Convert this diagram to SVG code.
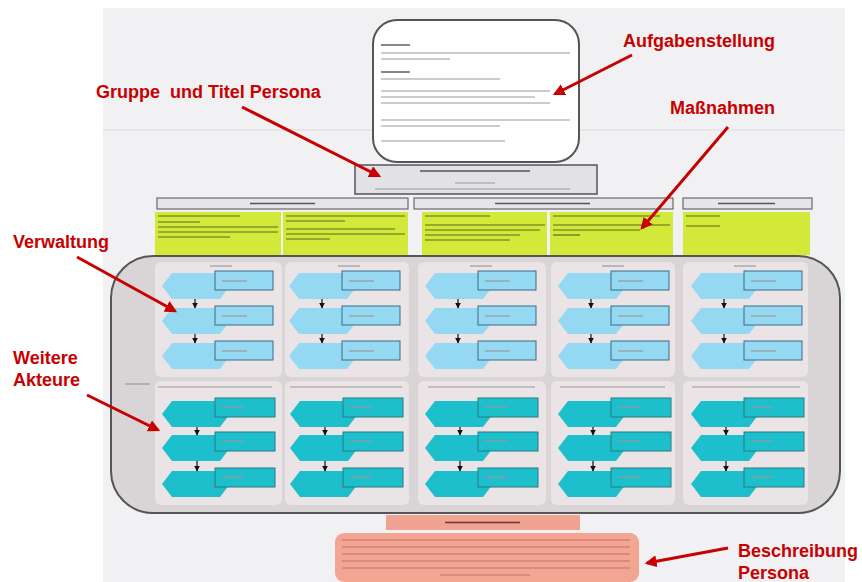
<svg xmlns="http://www.w3.org/2000/svg" width="862" height="582" viewBox="0 0 862 582">
<defs>
<style>
.lbl{font-family:"Liberation Sans",Arial,sans-serif;font-weight:bold;font-size:18px;fill:#c80000}
.arr{stroke:#c80000;stroke-width:3;fill:none;marker-end:url(#ah)}
.tl{stroke:#9a9a9a;stroke-width:1.2}
.tld{stroke:#555;stroke-width:1.4}
.tlp{stroke:#c07060;stroke-width:1.1}
.hdr{fill:#e6e6ea;stroke:#6a6a6a;stroke-width:1.2}
.green{fill:#d2e93a}
.pan{fill:#ebe4e6}
.hexB{fill:#94d8f2}
.recB{fill:#94d8f2;stroke:#3a6a8a;stroke-width:1}
.hexT{fill:#1dbfcc}
.recT{fill:#1dbfcc;stroke:#2a7a80;stroke-width:1}
.flow{stroke:#111;stroke-width:1.2;marker-end:url(#bk)}
</style>
<marker id="ah" viewBox="0 0 10 10" refX="8" refY="5" markerWidth="4" markerHeight="4" orient="auto"><path d="M0,0L10,5L0,10z" fill="#c80000"/></marker>
<marker id="bk" viewBox="0 0 10 10" refX="9" refY="5" markerWidth="5" markerHeight="5" orient="auto"><path d="M0,0L10,5L0,10z" fill="#111"/></marker>
<g id="rowB"><path class="hexB" d="M0,13L10,0H58L68,13L58,26H10Z"/><rect class="recB" x="53" y="-2" width="58" height="19"/><line class="tl" x1="60" y1="8" x2="85" y2="8"/></g>
<g id="rowT"><path class="hexT" d="M0,13L10,0H58L68,13L58,26H10Z"/><rect class="recT" x="53" y="-3" width="60" height="19"/><line class="tl" x1="60" y1="6" x2="82" y2="6" stroke="#2a6a70"/></g>
<g id="colB"><use href="#rowB" y="0"/><use href="#rowB" y="35"/><use href="#rowB" y="70"/><line class="flow" x1="33" y1="26" x2="33" y2="35"/><line class="flow" x1="33" y1="61" x2="33" y2="70"/></g>
<g id="colT"><use href="#rowT" y="0"/><use href="#rowT" y="34"/><use href="#rowT" y="70"/><line class="flow" x1="35" y1="26" x2="35" y2="34"/><line class="flow" x1="35" y1="60" x2="35" y2="70"/></g>
</defs>
<rect width="862" height="582" fill="#ffffff"/>
<rect x="103" y="8" width="742" height="574" fill="#f1f1f3"/>
<line x1="103" y1="130" x2="845" y2="130" stroke="#e6e6ea" stroke-width="2"/>

<g id="aufgabenstellung">
<rect x="373" y="20" width="206" height="142" rx="24" fill="#ffffff" stroke="#555" stroke-width="2"/>
<line class="tld" x1="381" y1="45" x2="410" y2="45"/>
<line class="tl" x1="381" y1="53" x2="570" y2="53"/>
<line class="tl" x1="381" y1="59" x2="450" y2="59"/>
<line class="tld" x1="381" y1="72" x2="410" y2="72"/>
<line class="tl" x1="381" y1="79" x2="500" y2="79"/>
<line class="tl" x1="381" y1="91" x2="550" y2="91"/>
<line class="tl" x1="381" y1="97" x2="535" y2="97"/>
<line class="tl" x1="381" y1="103" x2="550" y2="103"/>
<line class="tl" x1="381" y1="120" x2="570" y2="120"/>
<line class="tl" x1="381" y1="126" x2="500" y2="126"/>
<line class="tl" x1="381" y1="141" x2="505" y2="141"/>
</g>

<g id="gruppe-titel">
<rect x="355" y="165" width="242" height="29" fill="#e2e2e6" stroke="#555" stroke-width="1.5"/>
<line class="tld" x1="420" y1="171" x2="530" y2="171"/>
<line class="tl" x1="455" y1="183" x2="495" y2="183"/>
<line class="tl" x1="375" y1="189" x2="570" y2="189" stroke="#b8b8a0"/>
</g>

<g id="massnahmen-header">
<rect class="hdr" x="157" y="198" width="251" height="11"/>
<line class="tld" x1="250" y1="203.5" x2="315" y2="203.5"/>
<rect class="hdr" x="414" y="198" width="259" height="11"/>
<line class="tld" x1="495" y1="203.5" x2="590" y2="203.5"/>
<rect class="hdr" x="683" y="198" width="129" height="11"/>
<line class="tld" x1="718" y1="203.5" x2="775" y2="203.5"/>
</g>

<g id="massnahmen">
<rect class="green" x="155" y="212" width="126" height="43"/>
<rect class="green" x="283" y="212" width="125" height="43"/>
<rect class="green" x="422" y="212" width="125" height="43"/>
<rect class="green" x="550" y="212" width="123" height="43"/>
<rect class="green" x="683" y="212" width="127" height="43"/>
<g stroke="#5a6a20" stroke-width="1.2">
<line x1="158" y1="216" x2="240" y2="216"/><line x1="158" y1="222" x2="200" y2="222"/><line x1="158" y1="227" x2="278" y2="227"/><line x1="158" y1="232" x2="278" y2="232"/><line x1="158" y1="237" x2="230" y2="237"/>
<line x1="286" y1="216" x2="405" y2="216"/><line x1="286" y1="221" x2="345" y2="221"/><line x1="286" y1="229" x2="395" y2="229"/><line x1="286" y1="234" x2="405" y2="234"/><line x1="286" y1="239" x2="330" y2="239"/>
<line x1="425" y1="216" x2="490" y2="216"/><line x1="425" y1="225" x2="545" y2="225"/><line x1="425" y1="230" x2="540" y2="230"/><line x1="425" y1="235" x2="520" y2="235"/><line x1="425" y1="240" x2="510" y2="240"/>
<line x1="553" y1="216" x2="660" y2="216"/><line x1="553" y1="225" x2="670" y2="225"/><line x1="553" y1="230" x2="640" y2="230"/><line x1="553" y1="235" x2="580" y2="235"/>
<line x1="686" y1="216" x2="720" y2="216"/><line x1="686" y1="226" x2="720" y2="226"/>
</g>
</g>

<g id="container">
<rect x="111" y="256" width="729" height="257" rx="42" fill="#d9d4d5" stroke="#555" stroke-width="2"/>
<rect class="pan" x="155" y="262" width="127" height="115" rx="6"/>
<rect class="pan" x="285" y="262" width="124" height="115" rx="6"/>
<rect class="pan" x="418" y="262" width="128" height="115" rx="6"/>
<rect class="pan" x="551" y="262" width="124" height="115" rx="6"/>
<rect class="pan" x="683" y="262" width="125" height="115" rx="6"/>
<rect class="pan" x="155" y="381" width="127" height="124" rx="6"/>
<rect class="pan" x="285" y="381" width="124" height="124" rx="6"/>
<rect class="pan" x="418" y="381" width="128" height="124" rx="6"/>
<rect class="pan" x="551" y="381" width="124" height="124" rx="6"/>
<rect class="pan" x="683" y="381" width="125" height="124" rx="6"/>
<line class="tl" x1="125" y1="384" x2="150" y2="384"/>
</g>

<g id="verwaltung-1"><line class="tl" x1="210" y1="266" x2="232" y2="266"/><use href="#colB" x="162" y="273"/></g>
<g id="verwaltung-2"><line class="tl" x1="338" y1="266" x2="360" y2="266"/><use href="#colB" x="289" y="273"/></g>
<g id="verwaltung-3"><line class="tl" x1="470" y1="266" x2="492" y2="266"/><use href="#colB" x="425" y="273"/></g>
<g id="verwaltung-4"><line class="tl" x1="602" y1="266" x2="624" y2="266"/><use href="#colB" x="558" y="273"/></g>
<g id="verwaltung-5"><line class="tl" x1="734" y1="266" x2="756" y2="266"/><use href="#colB" x="691" y="273"/></g>

<g id="akteure-1"><line class="tl" x1="158" y1="387" x2="272" y2="387"/><use href="#colT" x="162" y="401"/></g>
<g id="akteure-2"><line class="tl" x1="290" y1="387" x2="402" y2="387"/><use href="#colT" x="290" y="401"/></g>
<g id="akteure-3"><line class="tl" x1="428" y1="387" x2="535" y2="387"/><use href="#colT" x="425" y="401"/></g>
<g id="akteure-4"><line class="tl" x1="560" y1="387" x2="665" y2="387"/><use href="#colT" x="558" y="401"/></g>
<g id="akteure-5"><line class="tl" x1="692" y1="387" x2="800" y2="387"/><use href="#colT" x="691" y="401"/></g>

<g id="persona-titel">
<rect x="386" y="515" width="194" height="15" fill="#f1a393"/>
<line x1="445" y1="522.5" x2="520" y2="522.5" stroke="#6a3a30" stroke-width="1.4"/>
</g>
<g id="persona-beschreibung">
<rect x="335" y="533" width="304" height="49" rx="9" fill="#f3a594"/>
<line class="tlp" x1="342" y1="540" x2="630" y2="540"/>
<line class="tlp" x1="342" y1="547" x2="630" y2="547"/>
<line class="tlp" x1="342" y1="554" x2="630" y2="554"/>
<line class="tlp" x1="342" y1="561" x2="630" y2="561"/>
<line class="tlp" x1="342" y1="568" x2="630" y2="568"/>
<line class="tlp" x1="440" y1="575" x2="530" y2="575"/>
</g>

<g id="annotations">
<text class="lbl" x="623" y="47">Aufgabenstellung</text>
<text class="lbl" x="96" y="98" xml:space="preserve">Gruppe  und Titel Persona</text>
<text class="lbl" x="670" y="114">Maßnahmen</text>
<text class="lbl" x="13" y="248">Verwaltung</text>
<text class="lbl" x="13" y="364">Weitere</text>
<text class="lbl" x="13" y="386">Akteure</text>
<text class="lbl" x="738" y="557">Beschreibung</text>
<text class="lbl" x="738" y="579">Persona</text>
</g>
<g id="connectors">
<line class="arr" x1="632" y1="55" x2="555" y2="94"/>
<line class="arr" x1="242" y1="107" x2="379" y2="176"/>
<line class="arr" x1="728" y1="127" x2="642" y2="228"/>
<line class="arr" x1="77" y1="257" x2="175" y2="311"/>
<line class="arr" x1="87" y1="395" x2="158" y2="430"/>
<line class="arr" x1="728" y1="548" x2="647" y2="563"/>
</g>
</svg>
